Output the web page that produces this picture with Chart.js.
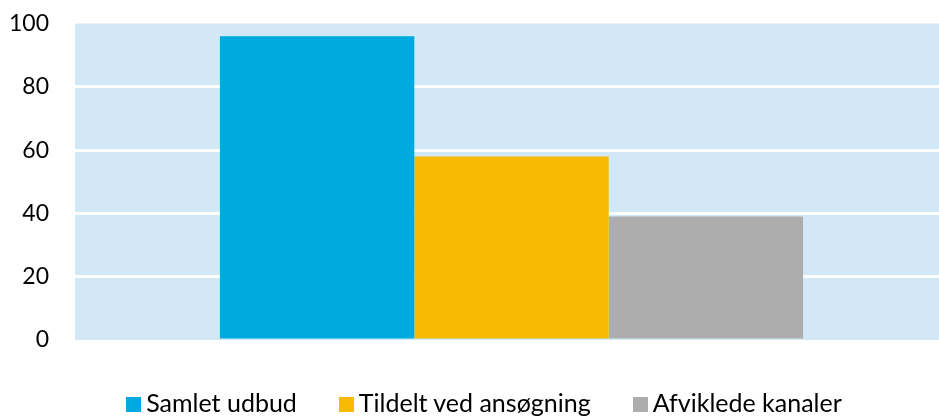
<!DOCTYPE html>
<html lang="da">
<head>
<meta charset="utf-8">
<title>Kanaler</title>
<script src="https://cdn.jsdelivr.net/npm/chart.js@4/dist/chart.umd.min.js"></script>
<style>
  html, body { margin: 0; padding: 0; background: #fff; }
  #wrap { position: relative; width: 939px; height: 416px; overflow: hidden; }
  canvas { display: block; }
  #legend {
    position: absolute; left: 0; top: 388px; width: 939px; padding-left: 29px; box-sizing: border-box;
    display: flex; justify-content: center; gap: 42px;
    font-family: Lato, "Open Sans", sans-serif; font-size: 25px; color: #000; line-height: 28px;
  }
  #legend .item { display: flex; align-items: center; white-space: nowrap; }
  #legend .box { width: 15px; height: 15px; margin-right: 5px; margin-top: 5px; }
</style>
</head>
<body>
<div id="wrap">
  <!-- lærredet er lidt bredere end rammen, så plotområdet løber ud over højre kant -->
  <canvas id="chart" width="948" height="416"></canvas>
  <div id="legend"></div>
</div>
<script>
// Kategorier og værdier
const kategorier = [''];
const serier = ['Samlet udbud', 'Tildelt ved ansøgning', 'Afviklede kanaler'];
const samletUdbud = [96];
const tildeltVedAnsoegning = [58];
const afvikledeKanaler = [39];
const yTicks = [0, 20, 40, 60, 80, 100];

const farver = ['#00A9E0', '#F8BA00', '#ADADAD'];
const vaerdier = [samletUdbud, tildeltVedAnsoegning, afvikledeKanaler];

// Lyseblå baggrund bag plotområdet
const plotBaggrund = {
  id: 'plotBaggrund',
  beforeDraw(chart) {
    const { ctx, chartArea: a } = chart;
    ctx.save();
    ctx.fillStyle = '#D3E8F6';
    ctx.fillRect(a.left, a.top, a.right - a.left, a.bottom - a.top);
    ctx.restore();
  }
};

const chart = new Chart(document.getElementById('chart'), {
  type: 'bar',
  data: {
    labels: kategorier,
    datasets: serier.map((navn, i) => ({
      label: navn,
      data: vaerdier[i],
      backgroundColor: farver[i],
      borderWidth: 0,
      categoryPercentage: 0.668,
      barPercentage: 1
    }))
  },
  options: {
    responsive: false,
    animation: false,
    layout: { padding: { top: 23.5, bottom: 76, left: 0, right: 0 } },
    plugins: {
      legend: { display: false },
      tooltip: { enabled: false }
    },
    scales: {
      x: { display: false },
      y: {
        min: 0,
        max: 100,
        afterBuildTicks(scale) {
          scale.ticks = yTicks.map(v => ({ value: v }));
        },
        afterFit(scale) {
          scale.width = 75;
          // ingen ekstra luft over/under aksen fra tick-padding
          scale.paddingTop = 0;
          scale.paddingBottom = 0;
        },
        border: { display: false },
        grid: {
          color: ctx => (ctx.tick && (ctx.tick.value === 0 || ctx.tick.value === 100)) ? 'rgba(0,0,0,0)' : '#FFFFFF',
          lineWidth: 3,
          drawTicks: false
        },
        ticks: {
          padding: 26,
          color: '#000',
          font: { family: 'Lato, "Open Sans", sans-serif', size: 23 }
        }
      }
    }
  },
  plugins: [plotBaggrund]
});

// Forklaring under diagrammet
const legend = document.getElementById('legend');
chart.data.datasets.forEach(ds => {
  const item = document.createElement('div');
  item.className = 'item';
  item.innerHTML = `<span class="box" style="background:${ds.backgroundColor}"></span><span>${ds.label}</span>`;
  legend.appendChild(item);
});
</script>
</body>
</html>
